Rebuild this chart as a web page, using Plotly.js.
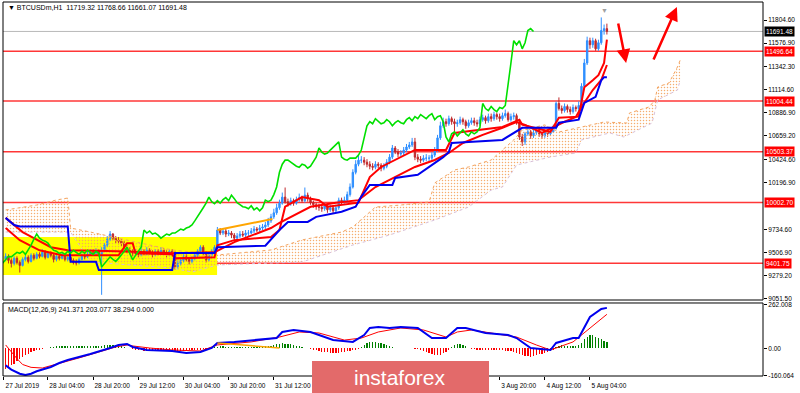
<!DOCTYPE html>
<html><head><meta charset="utf-8">
<script src="https://cdn.plot.ly/plotly-3.0.1.min.js"></script>
<style>html,body{margin:0;padding:0;background:#fff;}#chart{width:800px;height:393px;}</style>
</head><body><div id="chart"></div>
<script>
// ---------- DATA (hourly bars, bar index 0 = 27 Jul 13:00) ----------
const firstOpen = 9440;
const closes = [
9470,9430,9400,9450,9410,9380,9440,9460,9420,9480,
9450,9490,9470,9510,9460,9500,9480,9440,9470,9450,
9480,9440,9460,9430,9410,9405,9440,9470,9465,9490,
9510,9500,9520,9490,9530,9580,9640,9690,9650,9630,
9620,9600,9560,9530,9520,9500,9510,9490,9520,9500,
9530,9510,9490,9520,9500,9530,9510,9490,9520,9500,
9365,9400,9430,9465,9440,9420,9450,9480,9520,9560,
9500,9435,9480,9520,9560,9730,9700,9720,9690,9700,
9680,9650,9670,9690,9680,9700,9700,9720,9740,9730,
9750,9760,9780,9820,9860,9900,9950,9995,10055,10010,
9990,10020,9995,10030,10050,10020,10075,10040,10000,9980,
9960,9955,9940,9970,9930,9950,9920,9950,10025,10010,
10025,10080,10155,10300,10380,10420,10420,10400,10380,10360,
10350,10380,10370,10340,10360,10400,10450,10540,10500,10480,
10490,10520,10550,10570,10600,10450,10430,10420,10440,10440,
10440,10470,10520,10640,10760,10800,10780,10830,10800,10780,
10790,10820,10800,10760,10790,10810,10790,10780,10820,10840,
10810,10850,10830,10870,10850,10830,10860,10880,10820,10850,
10860,10800,10650,10600,10680,10700,10660,10690,10720,10680,
10660,10700,10680,10700,10740,10980,10930,10910,10950,10920,
10900,10940,10930,10960,11150,11380,11600,11560,11600,11520,
11580,11700,11719.32,11691.48];
const highs = [
9500,9490,9450,9470,9470,9430,9460,9490,9480,9500,
9500,9510,9510,9540,9530,9520,9520,9500,9490,9490,
9510,9500,9480,9480,9450,9440,9460,9500,9500,9520,
9540,9540,9550,9540,9560,9600,9670,9720,9700,9670,
9660,9640,9620,9580,9560,9540,9540,9530,9550,9540,
9560,9550,9530,9540,9540,9560,9550,9530,9540,9540,
9520,9430,9460,9490,9490,9460,9470,9510,9540,9580,
9580,9520,9500,9540,9580,9760,9750,9740,9740,9730,
9720,9700,9700,9720,9720,9730,9730,9750,9770,9760,
9780,9790,9810,9850,9890,9940,9990,10030,10100,10150,
10040,10050,10040,10060,10090,10070,10150,10100,10060,10020,
10000,9990,9980,10000,9990,9980,9970,9980,10050,10050,
10060,10110,10190,10330,10420,10470,10460,10450,10430,10410,
10390,10410,10400,10390,10390,10430,10480,10570,10560,10530,
10520,10550,10580,10600,10640,10640,10480,10460,10470,10480,
10470,10500,10550,10670,10800,10840,10830,10860,10850,10830,
10820,10850,10840,10820,10820,10840,10840,10820,10850,10870,
10860,10880,10880,10900,10890,10880,10890,10920,10900,10880,
10890,10880,10820,10680,10700,10730,10720,10720,10750,10740,
10700,10720,10720,10730,10770,11000,11040,10960,10980,10970,
10950,10970,10960,11000,11180,11420,11640,11630,11630,11620,
11610,11830,11760,11768.66];
const lows = [
9420,9400,9360,9380,9390,9310,9370,9420,9400,9410,
9430,9440,9450,9460,9440,9450,9460,9410,9420,9430,
9440,9420,9420,9410,9390,9380,9390,9430,9440,9450,
9480,9480,9490,9470,9090,9510,9560,9620,9630,9600,
9590,9570,9540,9500,9490,9470,9480,9460,9470,9480,
9480,9490,9460,9470,9480,9490,9490,9460,9470,9470,
9340,9340,9380,9410,9420,9390,9400,9430,9460,9500,
9480,9410,9420,9460,9500,9540,9680,9680,9660,9670,
9650,9620,9630,9650,9660,9660,9670,9690,9700,9710,
9710,9730,9740,9760,9800,9840,9880,9930,9980,9990,
9960,9970,9970,9980,10010,10000,10000,10010,9980,9950,
9930,9920,9910,9920,9900,9910,9890,9900,9930,9980,
9990,10000,10060,10140,10280,10360,10390,10370,10350,10330,
10320,10330,10340,10310,10320,10340,10380,10430,10480,10450,
10460,10470,10500,10530,10550,10420,10400,10390,10400,10410,
10410,10420,10450,10500,10620,10740,10750,10760,10770,10700,
10750,10770,10770,10730,10740,10770,10760,10750,10760,10800,
10780,10790,10800,10810,10820,10800,10810,10840,10800,10800,
10820,10770,10620,10560,10570,10660,10630,10640,10670,10650,
10630,10640,10650,10660,10690,10720,10910,10880,10890,10890,
10870,10880,10900,10900,10940,11130,11360,11520,11530,11500,
11500,11560,11660,11661.07];

// Ichimoku / MA lines (bar index, price)
const tenkanBar = [0,5,12,20,40,43,45,46,59,60,74,75,81,94,97,99,105,111,114,125,129,133,145,156,159,176,182,183,193,196,203,205,208,210,212,213];
const tenkanVal = [9750,9630,9530,9480,9480,9600,9600,9500,9490,9450,9460,9580,9630,9660,9730,9960,10055,10025,9960,10000,10254,10353,10521,10521,10689,10748,10820,10770,10700,10840,10850,11140,11210,11260,11380,11610];
const kijunBar = [0,3,5,22,23,32,33,59,60,74,75,92,97,100,107,110,119,124,126,129,137,138,146,150,155,157,158,176,181,183,195,196,203,205,209,211,212,213];
const kijunVal = [9850,9780,9765,9765,9417,9417,9335,9335,9503,9503,9560,9575,9730,9810,9810,9860,9910,9960,10060,10175,10175,10245,10275,10353,10450,10500,10590,10620,10700,10740,10740,10790,10820,10985,11045,11210,11240,11240];
const maBar = [0,6,10,16,22,40,60,74,81,94,97,108,117,125,131,136,145,152,157,162,169,176,181,184,190,197,202,204,208,211,213];
const maVal = [9850,9710,9650,9560,9530,9520,9500,9510,9610,9750,9800,9960,10000,10025,10155,10224,10353,10422,10491,10590,10670,10740,10797,10768,10689,10787,10847,10945,11113,11212,11360];
const spanABar = [0,11,18,22,23,30,59,75,94,105,119,123,131,140,150,152,159,164,172,176,180,183,191,196,204,212,220,221,228,230,231,235,238,239];
const spanAVal = [9928,9977,10027,10046,9750,9710,9533,9483,9533,9632,9710,9760,9957,9977,10007,10195,10323,10353,10422,10521,10620,10718,10768,10698,10748,10797,10787,10886,10946,11015,11143,11183,11341,11410];
const spanBBar = [0,23,30,59,66,75,94,105,123,136,152,164,172,176,181,193,202,204,214,219,229,231,238,239];
const spanBVal = [9710,9710,9414,9355,9315,9385,9404,9414,9582,9681,9829,9957,10125,10155,10372,10451,10491,10620,10689,10649,10787,11015,11113,11212];
const chikouShift = 26;

// MACD pane
const macdBar = [0,2,5,7,9,11,16,19,22,30,37,40,43,45,50,59,64,69,73,75,81,88,96,98,102,108,111,116,123,127,129,132,136,140,146,151,156,160,163,170,178,181,186,193,195,201,203,207,211,213];
const macdVal = [-100,-125,-150,-158,-150,-135,-110,-86,-68,-33,3,21,27,9,-9,-15,-27,-21,3,33,39,51,62,98,110,98,80,51,39,80,122,128,122,128,122,62,62,122,122,92,80,62,3,-9,33,62,62,187,235,241.371];
const signalBar = [0,2,4,6,9,13,17,26,33,39,43,45,51,59,69,75,87,97,104,111,120,126,132,140,148,156,160,165,172,181,188,193,201,207,213];
const signalVal = [21,-20,-60,-95,-112,-116,-98,-56,-21,9,21,15,3,-9,-15,21,39,68,98,92,50,62,98,122,110,68,98,110,92,68,21,-9,39,122,203.077];
const histVal = [
-120,-110,-100,-90,-75,-60,-48,-38,-30,-22,-16,-10,-6,
-3,2,5,8,10,12,12,14,
15,16,16,15,15,16,15,14,13,12,12,13,
14,16,18,20,22,20,18,15,12,8,4,2,
-3,-6,-9,-11,-12,-13,-14,-14,-13,-12,-12,-13,-14,-15,-16,-15,-14,-13,-12,-11,-10,-10,-9,-8,-6,-4,-2,1,3,
6,10,12,12,11,10,9,8,8,7,7,6,6,6,7,8,9,10,12,14,17,20,
24,28,30,29,27,24,20,16,12,8,4,1,-2,
-6,-10,-14,-18,-20,-22,-24,-25,-25,-24,-22,-20,-17,-14,-10,-6,-2,
8,20,32,38,40,38,34,30,25,20,14,9,5,
3,2,2,1,1,0,-2,-5,
-10,-16,-22,-28,-33,-38,-40,-36,-28,-18,
-6,8,18,24,25,20,12,
4,-2,-5,-6,-7,-8,-8,-9,-9,-10,-10,-10,-11,-12,-14,-16,-20,-25,-30,-36,
-42,-46,-48,-45,-40,-35,-30,-25,-20,-14,-8,
10,16,18,16,14,13,14,16,20,
35,55,70,80,78,70,62,55,47,38.294];

// Levels, drawn objects
const levels = [11496.64, 11004.44, 10503.37, 10002.70, 9401.75];
const lastPrice = 11691.48;
const trendMainBar = [75, 94.5], trendMainVal = [9730, 9839];
const trendMacdBar = [75, 97], trendMacdVal = [33, 3];
const zoneBars = [-1, 74.9], zonePrices = [9286, 9661];
const arrowTailBar = [216.9, 229.3], arrowTailVal = [11785, 11400];
const arrowHeadBar = [219.8, 237.8], arrowHeadVal = [11380, 11934];

// visible time labels (the ones under the watermark are hidden in the reference)
const tickBars = [-0.8,15,31,47,63,79,95,175,191,207];
const tickLabels = ['27 Jul 2019','28 Jul 04:00','28 Jul 20:00','29 Jul 12:00','30 Jul 04:00','30 Jul 20:00','31 Jul 12:00','3 Aug 20:00','4 Aug 12:00','5 Aug 04:00'];
const priceTicks = [11804.60,11576.90,11342.30,11114.60,10886.90,10659.20,10424.60,10196.90,9734.60,9506.90,9279.20,9051.50];

// ---------- BUILD ----------
const idx = closes.map((_, i) => i);
const opens = closes.map((c, i) => i === 0 ? firstOpen : closes[i - 1]);

const traces = [
  {x: spanBBar, y: spanBVal, type:'scatter', mode:'lines', line:{color:'#D8BFD8', width:1, dash:'dot'}, xaxis:'x', yaxis:'y'},
  {x: spanABar, y: spanAVal, type:'scatter', mode:'lines', line:{color:'#F4A460', width:1, dash:'dot'},
   fill:'tonexty', fillcolor:'rgba(0,0,0,0)',
   fillpattern:{shape:'.', fgcolor:'rgba(244,164,96,0.9)', bgcolor:'rgba(0,0,0,0)', size:3, solidity:0.2}, xaxis:'x', yaxis:'y'},
  {x: idx, open: opens, high: highs, low: lows, close: closes, type:'candlestick', xaxis:'x', yaxis:'y',
   increasing:{line:{color:'#2F8FFF', width:1}, fillcolor:'#2F8FFF'},
   decreasing:{line:{color:'#C0282B', width:1}, fillcolor:'#C0282B'}, whiskerwidth:0},
  {x: maBar, y: maVal, type:'scatter', mode:'lines', line:{color:'#FF0000', width:2}, xaxis:'x', yaxis:'y'},
  {x: tenkanBar, y: tenkanVal, type:'scatter', mode:'lines', line:{color:'#FF0000', width:2}, xaxis:'x', yaxis:'y'},
  {x: kijunBar, y: kijunVal, type:'scatter', mode:'lines', line:{color:'#0000EE', width:2}, xaxis:'x', yaxis:'y'},
  {x: idx.map(i => i - chikouShift), y: closes, type:'scatter', mode:'lines', line:{color:'#00E000', width:1.6}, xaxis:'x', yaxis:'y'},
  {x: trendMainBar, y: trendMainVal, type:'scatter', mode:'lines', line:{color:'#FFA500', width:2}, xaxis:'x', yaxis:'y'},
  // MACD
  {x: idx, y: histVal, type:'bar', width:0.45, marker:{color: histVal.map(v => v >= 0 ? '#008000' : '#FF0000'), line:{width:0}}, xaxis:'x', yaxis:'y2'},
  {x: signalBar, y: signalVal, type:'scatter', mode:'lines', line:{color:'#FF0000', width:1}, xaxis:'x', yaxis:'y2'},
  {x: macdBar, y: macdVal, type:'scatter', mode:'lines', line:{color:'#0000EE', width:2}, xaxis:'x', yaxis:'y2'},
  {x: trendMacdBar, y: trendMacdVal, type:'scatter', mode:'lines', line:{color:'#FFA500', width:1.5}, xaxis:'x', yaxis:'y2'}
];

const shapes = [
  {type:'rect', layer:'below', xref:'x', yref:'y', x0: zoneBars[0], x1: zoneBars[1], y0: zonePrices[0], y1: zonePrices[1], fillcolor:'#FFFF00', line:{width:0}},
  {type:'line', layer:'below', xref:'paper', yref:'y', x0:0, x1:1, y0:lastPrice, y1:lastPrice, line:{color:'#B8B8B8', width:1}},
  {type:'rect', layer:'above', xref:'paper', yref:'paper', x0:0, x1:1, y0:0.2032, y1:1, line:{color:'#000', width:1}, fillcolor:'rgba(0,0,0,0)'},
  {type:'rect', layer:'above', xref:'paper', yref:'paper', x0:0, x1:1, y0:0, y1:0.1952, line:{color:'#000', width:1}, fillcolor:'rgba(0,0,0,0)'},
  {type:'rect', layer:'above', xref:'paper', yref:'paper', x0:0.4066, x1:0.6395, y0:-0.05, y1:0.0401, fillcolor:'#E36A6A', line:{width:0}}
];
levels.forEach(l => shapes.push({type:'line', layer:'below', xref:'paper', yref:'y', x0:0, x1:1, y0:l, y1:l, line:{color:'rgba(255,20,20,0.85)', width:1.5}}));

const annotations = [
  {xref:'paper', yref:'paper', x:0.004, y:0.984, xanchor:'left', yanchor:'middle', showarrow:false,
   text:'\u25BC BTCUSDm,H1\u00A0\u00A011719.32 11768.66 11661.07 11691.48', font:{size:7, color:'#000'}},
  {xref:'paper', yref:'paper', x:0.004, y:0.1765, xanchor:'left', yanchor:'middle', showarrow:false,
   text:'MACD(12,26,9) 241.371 203.077 38.294 0.000', font:{size:7, color:'#000'}},
  {xref:'paper', yref:'paper', x:0.7987, y:0.993, showarrow:false, text:'\u25BC', font:{size:7, color:'#A0A0A0'}},
  {xref:'paper', yref:'paper', x:0.5224, y:-0.004, xanchor:'center', yanchor:'middle', showarrow:false,
   text:'instaforex', font:{size:21, color:'#FFFFFF', family:'Liberation Sans, Arial, sans-serif'}},
  {xref:'paper', yref:'y', x:1, xanchor:'left', xshift:1, y:lastPrice, showarrow:false, text:lastPrice.toFixed(2),
   bgcolor:'#000', font:{size:6.5, color:'#fff'}, borderpad:1}
];
levels.forEach(l => annotations.push({xref:'paper', yref:'y', x:1, xanchor:'left', xshift:1, y:l, showarrow:false,
  text:l.toFixed(2), bgcolor:'#FF0000', font:{size:6.5, color:'#fff'}, borderpad:1}));
arrowHeadBar.forEach((b, k) => annotations.push({xref:'x', yref:'y', axref:'x', ayref:'y', x:b, y:arrowHeadVal[k],
  ax:arrowTailBar[k], ay:arrowTailVal[k], showarrow:true, arrowhead:2, arrowsize:1.1, arrowwidth:2.5, arrowcolor:'#FF0000', text:''}));

const layout = {
  width:800, height:393, margin:{l:3, r:37, t:2, b:17},
  paper_bgcolor:'#fff', plot_bgcolor:'#fff', showlegend:false, hovermode:false, bargap:0,
  font:{family:'Liberation Sans, Arial, sans-serif', size:6.5, color:'#000'},
  xaxis:{anchor:'y2', range:[-0.94, 268.3], showgrid:false, zeroline:false, showline:false,
    tickmode:'array', tickvals:tickBars, ticktext:tickLabels, ticks:'outside', ticklen:3, tickcolor:'#000',
    ticklabelshift:19, rangeslider:{visible:false}, tickfont:{size:6.5}},
  yaxis:{domain:[0.2032,1], range:[9038.8,11982.4], side:'right', anchor:'x', showgrid:false, zeroline:false,
    tickmode:'array', tickvals:priceTicks, ticktext:priceTicks.map(v => v.toFixed(2)), ticks:'outside', ticklen:3, tickcolor:'#000', tickfont:{size:6.5}},
  yaxis2:{domain:[0,0.1952], range:[-163.4,270.3], side:'right', anchor:'x', showgrid:false, zeroline:false,
    tickmode:'array', tickvals:[262.008,0,-160.064], ticktext:['262.008','0.00','-160.064'], ticks:'outside', ticklen:3, tickcolor:'#000', tickfont:{size:6.5}},
  shapes: shapes, annotations: annotations
};

Plotly.newPlot('chart', traces, layout, {displayModeBar:false, staticPlot:true});
</script></body></html>
